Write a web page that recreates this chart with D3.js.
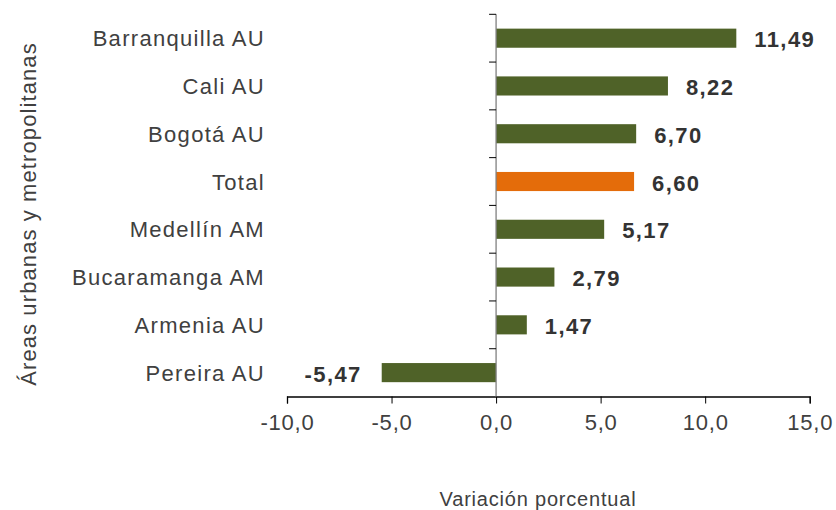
<!DOCTYPE html>
<html>
<head>
<meta charset="utf-8">
<script src="https://cdn.jsdelivr.net/npm/d3@7"></script>
<style>
  body { margin: 0; background: #fff; }
  svg text { font-family: "Liberation Sans", Arial, sans-serif; }
</style>
</head>
<body>
<svg id="chart" width="836" height="510"></svg>
<script>
// datos
var categorias = ["Barranquilla AU", "Cali AU", "Bogotá AU", "Total", "Medellín AM", "Bucaramanga AM", "Armenia AU", "Pereira AU"];
var variacion = [11.49, 8.22, 6.70, 6.60, 5.17, 2.79, 1.47, -5.47];
var ticksX = [-10, -5, 0, 5, 10, 15];
var destacado = "Total";

var svg = d3.select("#chart");
var izq = 287, der = 809.7, arriba = 14.3, abajo = 396.5;

var x = d3.scaleLinear().domain([-10, 15]).range([izq, der]);
var y = d3.scaleBand().domain(categorias).range([arriba, abajo]).paddingInner(0.6).paddingOuter(0.3);

var fmt = function(v, d) { return v.toFixed(d).replace(".", ","); };

// barras
svg.selectAll("rect.bar")
  .data(variacion)
  .enter().append("rect")
  .attr("class", "bar")
  .attr("x", function(d) { return x(Math.min(0, d)); })
  .attr("y", function(d, i) { return y(categorias[i]); })
  .attr("width", function(d) { return Math.abs(x(d) - x(0)); })
  .attr("height", y.bandwidth())
  .attr("fill", function(d, i) { return categorias[i] == destacado ? "#E46C0A" : "#4F6228"; });

// etiquetas de valor
svg.selectAll("text.val")
  .data(variacion)
  .enter().append("text")
  .attr("class", "val")
  .attr("x", function(d) { return d < 0 ? x(d) - 20 : x(d) + 18; })
  .attr("y", function(d, i) { return y(categorias[i]) + y.bandwidth() / 2 + 9; })
  .attr("text-anchor", function(d) { return d < 0 ? "end" : "start"; })
  .attr("font-size", "22px")
  .attr("font-weight", "bold")
  .attr("letter-spacing", "1.4px")
  .attr("fill", "#333333")
  .text(function(d) { return fmt(d, 2); });

// eje x
var ejeX = d3.axisBottom(x).tickValues(ticksX).tickSize(7).tickPadding(6)
  .tickFormat(function(d) { return fmt(d, 1); });
var gx = svg.append("g")
  .attr("transform", "translate(0," + abajo + ")")
  .call(ejeX);
gx.select(".domain").attr("stroke", "#000").attr("stroke-width", 1.3);
gx.selectAll(".tick line").attr("stroke", "#000");
gx.selectAll(".tick text")
  .attr("font-family", "'Liberation Sans', Arial, sans-serif")
  .attr("font-size", "22px")
  .attr("letter-spacing", "0.8px")
  .attr("fill", "#404040")
  .attr("dy", "0.95em");

// eje y en el cero
var yTicks = d3.range(categorias.length).map(function(i) { return arriba + i * y.step(); });
svg.append("line")
  .attr("x1", x(0)).attr("x2", x(0))
  .attr("y1", arriba).attr("y2", abajo)
  .attr("stroke", "#7f7f7f").attr("stroke-width", 1.3);
svg.selectAll("line.ytick")
  .data(yTicks)
  .enter().append("line")
  .attr("class", "ytick")
  .attr("x1", x(0) - 7).attr("x2", x(0))
  .attr("y1", function(d) { return d; }).attr("y2", function(d) { return d; })
  .attr("stroke", "#000").attr("stroke-width", 1);

// nombres de categoría
svg.selectAll("text.cat")
  .data(categorias)
  .enter().append("text")
  .attr("class", "cat")
  .attr("x", 265)
  .attr("y", function(d) { return y(d) + y.bandwidth() / 2 + 8; })
  .attr("text-anchor", "end")
  .attr("font-size", "22px")
  .attr("letter-spacing", "1.3px")
  .attr("fill", "#404040")
  .text(function(d) { return d; });

// títulos de ejes
svg.append("text")
  .attr("x", 538).attr("y", 506)
  .attr("text-anchor", "middle")
  .attr("font-size", "20px")
  .attr("letter-spacing", "0.8px")
  .attr("fill", "#404040")
  .text("Variación porcentual");

svg.append("text")
  .attr("transform", "translate(36,214) rotate(-90)")
  .attr("text-anchor", "middle")
  .attr("font-size", "22px")
  .attr("letter-spacing", "1.1px")
  .attr("fill", "#404040")
  .text("Áreas urbanas y metropolitanas");
</script>
</body>
</html>
